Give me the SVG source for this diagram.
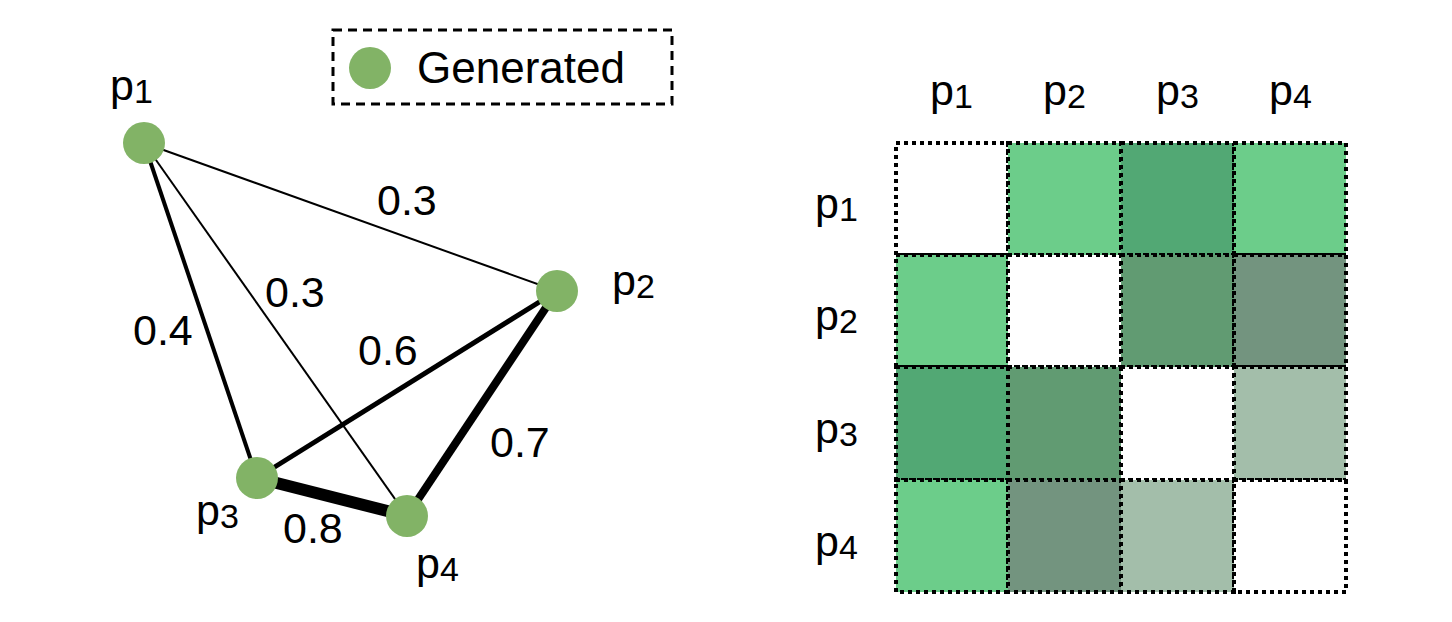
<svg xmlns="http://www.w3.org/2000/svg" width="1452" height="622" viewBox="0 0 1452 622">
<style>
text{font-family:"Liberation Sans",Arial,sans-serif;font-size:43px;fill:#000}
.sub{font-size:34px}
.node{fill:#82B366}
.edge{stroke:#000;fill:none}
.cell{stroke:#000;stroke-width:4;stroke-dasharray:4 4}
</style>
<rect width="1452" height="622" fill="#fff"/>
<g id="legend">
<rect x="333" y="30" width="339" height="74" fill="none" stroke="#000" stroke-width="3" stroke-dasharray="9 6"/>
<circle cx="370" cy="68" r="21" class="node"/>
<text x="417" y="83" style="font-size:44px">Generated</text>
</g>
<g id="connectors">
<line class="edge" x1="144" y1="143" x2="557" y2="291" stroke-width="2"/>
<line class="edge" x1="144" y1="143" x2="407" y2="516" stroke-width="2"/>
<line class="edge" x1="144" y1="143" x2="257" y2="478" stroke-width="4"/>
<line class="edge" x1="257" y1="478" x2="557" y2="291" stroke-width="5"/>
<line class="edge" x1="557" y1="291" x2="407" y2="516" stroke-width="8"/>
<line class="edge" x1="257" y1="478" x2="407" y2="516" stroke-width="12"/>
<text x="377" y="215">0.3</text>
<text x="265" y="307">0.3</text>
<text x="133" y="345">0.4</text>
<text x="358" y="365">0.6</text>
<text x="490" y="457">0.7</text>
<text x="283" y="543">0.8</text>
</g>
<g id="p1"><circle cx="144" cy="143" r="21" class="node"/><text x="110" y="100">p<tspan class="sub" dy="3">1</tspan></text></g>
<g id="p2"><circle cx="557" cy="291" r="21" class="node"/><text x="612" y="295">p<tspan class="sub" dy="3">2</tspan></text></g>
<g id="p3"><circle cx="257" cy="478" r="21" class="node"/><text x="196" y="525">p<tspan class="sub" dy="3">3</tspan></text></g>
<g id="p4"><circle cx="407" cy="516" r="21" class="node"/><text x="416" y="578">p<tspan class="sub" dy="3">4</tspan></text></g>
<g id="matrix-labels">
<text x="930" y="105">p<tspan class="sub" dy="3">1</tspan></text>
<text x="1043" y="105">p<tspan class="sub" dy="3">2</tspan></text>
<text x="1156" y="105">p<tspan class="sub" dy="3">3</tspan></text>
<text x="1269" y="105">p<tspan class="sub" dy="3">4</tspan></text>
<text x="815" y="218">p<tspan class="sub" dy="3">1</tspan></text>
<text x="815" y="330">p<tspan class="sub" dy="3">2</tspan></text>
<text x="815" y="443">p<tspan class="sub" dy="3">3</tspan></text>
<text x="815" y="556">p<tspan class="sub" dy="3">4</tspan></text>
</g>
<g id="matrix">
<rect class="cell" x="896" y="143" width="112" height="112" fill="#FFFFFF"/>
<rect class="cell" x="1008" y="143" width="113" height="112" fill="#6CCD8A"/>
<rect class="cell" x="1121" y="143" width="113" height="112" fill="#52A874"/>
<rect class="cell" x="1234" y="143" width="112" height="112" fill="#6CCD8A"/>
<rect class="cell" x="896" y="255" width="112" height="112" fill="#6CCD8A"/>
<rect class="cell" x="1008" y="255" width="113" height="112" fill="#FFFFFF"/>
<rect class="cell" x="1121" y="255" width="113" height="112" fill="#619B72"/>
<rect class="cell" x="1234" y="255" width="112" height="112" fill="#73947F"/>
<rect class="cell" x="896" y="367" width="112" height="113" fill="#52A874"/>
<rect class="cell" x="1008" y="367" width="113" height="113" fill="#619B72"/>
<rect class="cell" x="1121" y="367" width="113" height="113" fill="#FFFFFF"/>
<rect class="cell" x="1234" y="367" width="112" height="113" fill="#A3BEAA"/>
<rect class="cell" x="896" y="480" width="112" height="112" fill="#6CCD8A"/>
<rect class="cell" x="1008" y="480" width="113" height="112" fill="#73947F"/>
<rect class="cell" x="1121" y="480" width="113" height="112" fill="#A3BEAA"/>
<rect class="cell" x="1234" y="480" width="112" height="112" fill="#FFFFFF"/>
</g>
</svg>
